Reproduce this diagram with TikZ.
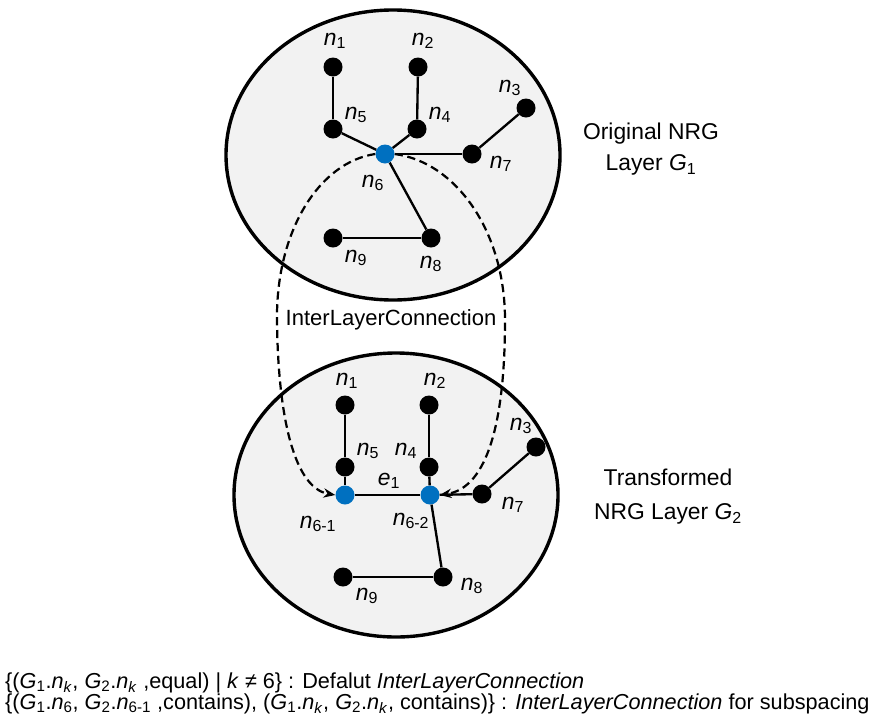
\documentclass[tikz,border=0pt]{standalone}
\usepackage{fontspec}
\setmainfont{Liberation Sans}
\usetikzlibrary{arrows.meta}
\definecolor{myblue}{RGB}{0,112,192}
\definecolor{mygray}{RGB}{242,242,242}
\newcommand{\nlab}[1]{\textit{n}\textsubscript{#1}}

\begin{document}
\begin{tikzpicture}
			[x=0.03cm, y=-0.03cm,
			 vertex/.style={circle,fill=black,inner sep=0pt,minimum size=0.57cm},
			 hub/.style={vertex,fill=myblue},
			 lbl/.style={inner sep=0pt,font=\fontsize{19.5}{23}\selectfont},
			 layer/.style={draw,line width=2.9pt,fill=mygray},
			 edge/.style={line width=2pt},
			 link/.style={line width=1.9pt,dash pattern=on 7pt off 4pt,-{Stealth[length=10pt,width=8pt]}}]
			\useasboundingbox (0,0) rectangle (878,722);
			
			% the two layers
			\draw[layer] (393,155) ellipse (167 and 145);
			\draw[layer] (396,495) ellipse (162 and 142);
			
			% layer G1
			\node[vertex] (t1) at (333,67)  {};
			\node[vertex] (t2) at (418,67)  {};
			\node[vertex] (t3) at (526,108) {};
			\node[vertex] (t4) at (417,129) {};
			\node[vertex] (t5) at (333,129) {};
			\node[hub]    (t6) at (385,154) {};
			\node[vertex] (t7) at (472,154) {};
			\node[vertex] (t8) at (431,238) {};
			\node[vertex] (t9) at (333,238) {};
			
			\node[lbl] (lt1) at (335,41)  {\nlab{1}};
			\node[lbl] (lt2) at (423,41)  {\nlab{2}};
			\node[lbl] (lt3) at (510,88)  {\nlab{3}};
			\node[lbl] (lt4) at (440,115) {\nlab{4}};
			\node[lbl] (lt5) at (356,115) {\nlab{5}};
			\node[lbl] (lt6) at (373,183) {\nlab{6}};
			\node[lbl] (lt7) at (501,164) {\nlab{7}};
			\node[lbl] (lt8) at (431,264) {\nlab{8}};
			\node[lbl] (lt9) at (356,258) {\nlab{9}};
			
			\foreach \a/\b in {t1/t5,t2/t4,t5/t6,t4/t6,t6/t7,t7/t3,t6/t8,t8/t9}
			\draw[edge] (\a) -- (\b);
			
			% layer G2
			\node[vertex] (b1)  at (345,405) {};
			\node[vertex] (b2)  at (429,405) {};
			\node[vertex] (b3)  at (536,447) {};
			\node[vertex] (b4)  at (429,467) {};
			\node[vertex] (b5)  at (345,467) {};
			\node[hub]    (b61) at (345,495) {};
			\node[hub]    (b62) at (430,495) {};
			\node[vertex] (b7)  at (482,494) {};
			\node[vertex] (b8)  at (443,577) {};
			\node[vertex] (b9)  at (343,577) {};
			
			\node[lbl] (lb1)  at (347,381) {\nlab{1}};
			\node[lbl] (lb2)  at (435,381) {\nlab{2}};
			\node[lbl] (lb3)  at (521,426) {\nlab{3}};
			\node[lbl] (lb4)  at (406,451) {\nlab{4}};
			\node[lbl] (lb5)  at (368,451) {\nlab{5}};
			\node[lbl] (le1)  at (389,481) {\textit{e}\textsubscript{1}};
			\node[lbl] (lb61) at (318,524) {\nlab{6-1}};
			\node[lbl] (lb62) at (411,521) {\nlab{6-2}};
			\node[lbl] (lb7)  at (513,505) {\nlab{7}};
			\node[lbl] (lb8)  at (472,586) {\nlab{8}};
			\node[lbl] (lb9)  at (367,596) {\nlab{9}};
			
			\foreach \a/\b in {b1/b5,b2/b4,b5/b61,b4/b62,b61/b62,b62/b7,b7/b3,b62/b8,b8/b9}
			\draw[edge] (\a) -- (\b);
			
			% inter-layer connections
			\draw[link] (t6.west) .. controls (320,162) and (276,230) .. (277,320)
			  .. controls (278,420) and (295,488) .. (b61.west);
			\draw[link] (t6.east) .. controls (455,162) and (505,230) .. (505,320)
			  .. controls (505,420) and (488,488) .. (b62.east);
			\node[lbl,font=\fontsize{18.8}{22}\selectfont] (ilc) at (391,320) {InterLayerConnection};
			
			% captions
			\node[lbl,align=center,font=\fontsize{19.5}{27}\selectfont] (g1) at (651,149) {Original NRG\\Layer \textit{G}\textsubscript{1}};
			\node[lbl,align=center,font=\fontsize{19.5}{29}\selectfont] (g2) at (668,497) {Transformed\\NRG Layer \textit{G}\textsubscript{2}};
			
			\node[lbl,anchor=base west,font=\fontsize{18.5}{20}\selectfont] (note1) at (5,688)
			  {\{(\textit{G}\textsubscript{1}.\textit{n}\textsubscript{\textit{k}}, \textit{G}\textsubscript{2}.\textit{n}\textsubscript{\textit{k}} ,equal) | \textit{k} ≠ 6\} : Defalut \textit{InterLayerConnection}};
			\node[lbl,anchor=base west,font=\fontsize{18.5}{20}\selectfont] (note2) at (5,709)
			  {\{(\textit{G}\textsubscript{1}.\textit{n}\textsubscript{6}, \textit{G}\textsubscript{2}.\textit{n}\textsubscript{6-1} ,contains), (\textit{G}\textsubscript{1}.\textit{n}\textsubscript{\textit{k}}, \textit{G}\textsubscript{2}.\textit{n}\textsubscript{\textit{k}}, contains)\} : \textit{InterLayerConnection} for subspacing};
			\end{tikzpicture}
\end{document}
